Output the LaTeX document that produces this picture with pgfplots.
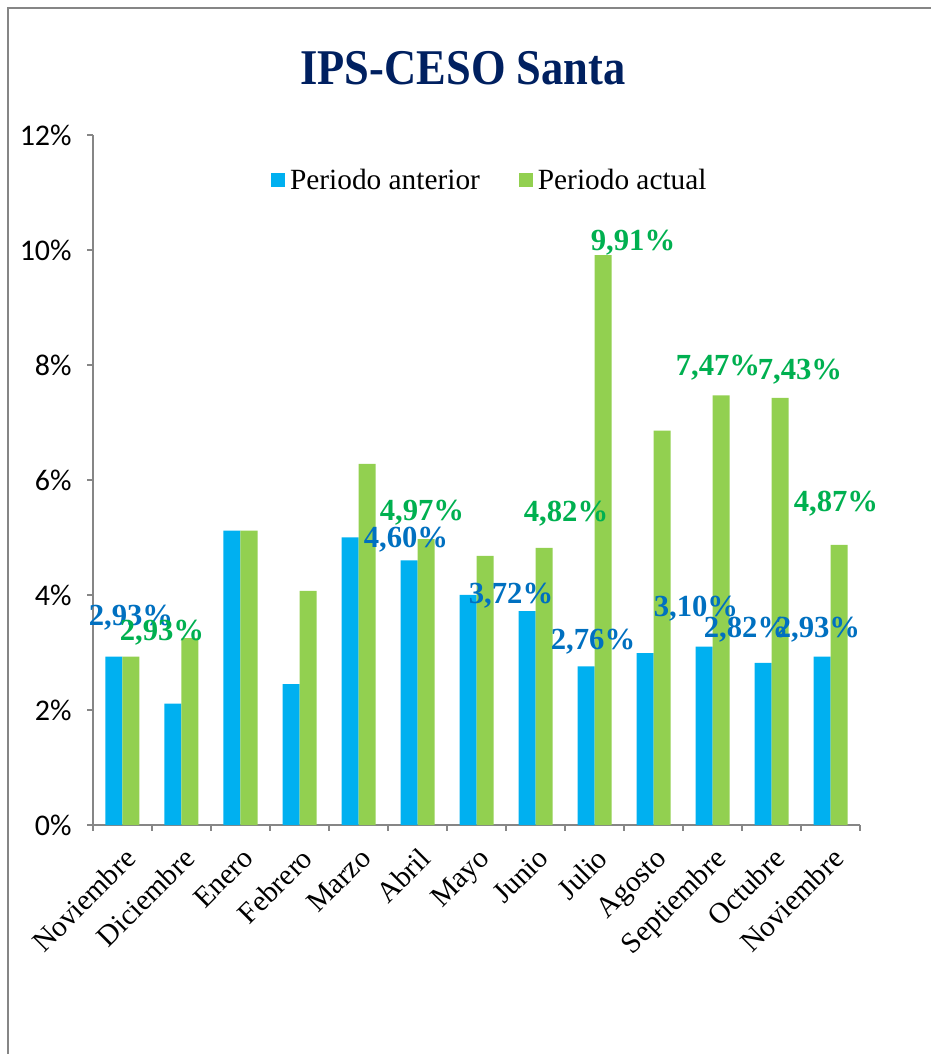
\documentclass[border=0pt]{standalone}
\usepackage{pgfplots}
\pgfplotsset{compat=1.18}
\usepackage{fontspec}
\setmainfont{Liberation Serif}
\newfontfamily\carlito{Carlito}
\definecolor{barblue}{HTML}{00B0F0}
\definecolor{bargreen}{HTML}{92D050}
\definecolor{lblblue}{HTML}{0070C0}
\definecolor{lblgreen}{HTML}{00B050}
\definecolor{titlenavy}{HTML}{002060}
\definecolor{axgray}{HTML}{868686}
\tikzset{lbl/.style={font=\bfseries\fontsize{23}{23}\selectfont, inner sep=0pt}}
\begin{document}
\begin{tikzpicture}
\path[use as bounding box] (0,0) rectangle (698.25pt,790.5pt);
\draw[axgray, line width=1.5pt] (6pt,0) -- (6pt,784.5pt) -- (698.25pt,784.5pt);
\node[font=\bfseries\fontsize{37.5}{40}\selectfont, text=titlenavy] at (347.25pt,739.5pt) {\scalebox{0.89}[1]{IPS-CESO Santa}};
\begin{axis}[
  at={(69.75pt,171.75pt)}, anchor=south west,
  scale only axis, width=575.25pt, height=517.5pt,
  xmin=-0.5, xmax=12.5, ymin=0, ymax=12,
  axis x line*=bottom, axis y line*=left,
  axis line style={axgray, line width=1pt, -},
  ybar=0pt, bar width=12.75pt,
  xtick={-0.5,0.5,...,12.5}, xticklabels={},
  extra x ticks={0,1,...,12},
  extra x tick labels={Noviembre,Diciembre,Enero,Febrero,Marzo,Abril,Mayo,Junio,Julio,Agosto,Septiembre,Octubre,Noviembre},
  extra x tick style={major tick length=0pt},
  major tick length=4.5pt,
  tick align=outside,
  tick style={axgray, line width=1pt},
  ytick={0,2,...,12}, yticklabels={0\%,2\%,4\%,6\%,8\%,10\%,12\%},
  yticklabel style={font=\carlito\fontsize{22.5}{22.5}\selectfont, xshift=-8pt},
  xticklabel style={font=\fontsize{22}{22}\selectfont, rotate=45, anchor=north east, xshift=-7.5pt, yshift=-8pt},
  legend style={at={(0.5176,0.935)}, anchor=center, draw=none, fill=none,
    font=\fontsize{22}{22}\selectfont, legend columns=2,
    /tikz/every even column/.append style={column sep=27pt},
    /tikz/every odd column/.append style={column sep=2pt}},
  legend image code/.code={\fill[#1] (0pt,-5.25pt) rectangle (10.5pt,5.25pt);},
  clip=false,
]
\addplot[fill=barblue, draw=none] coordinates {(0,2.93)(1,2.11)(2,5.12)(3,2.45)(4,5.00)(5,4.60)(6,4.00)(7,3.72)(8,2.76)(9,2.99)(10,3.10)(11,2.82)(12,2.93)};
\addplot[fill=bargreen, draw=none] coordinates {(0,2.93)(1,3.25)(2,5.12)(3,4.07)(4,6.28)(5,4.97)(6,4.68)(7,4.82)(8,9.91)(9,6.86)(10,7.47)(11,7.43)(12,4.87)};
\legend{Periodo anterior, Periodo actual}
\node[lbl, text=lblblue] at (axis cs:0.144,3.60) {2,93\%};
\node[lbl, text=lblgreen] at (axis cs:0.669,3.34) {2,93\%};
\node[lbl, text=lblgreen] at (axis cs:5.076,5.44) {4,97\%};
\node[lbl, text=lblblue] at (axis cs:4.805,4.96) {4,60\%};
\node[lbl, text=lblblue] at (axis cs:6.585,3.98) {3,72\%};
\node[lbl, text=lblgreen] at (axis cs:7.517,5.41) {4,82\%};
\node[lbl, text=lblblue] at (axis cs:7.975,3.18) {2,76\%};
\node[lbl, text=lblgreen] at (axis cs:8.653,10.12) {9,91\%};
\node[lbl, text=lblgreen] at (axis cs:10.093,7.95) {7,47\%};
\node[lbl, text=lblgreen] at (axis cs:11.483,7.88) {7,43\%};
\node[lbl, text=lblgreen] at (axis cs:12.093,5.58) {4,87\%};
\node[lbl, text=lblblue] at (axis cs:9.720,3.76) {3,10\%};
\node[lbl, text=lblblue] at (axis cs:10.568,3.39) {2,82\%};
\node[lbl, text=lblblue] at (axis cs:11.788,3.39) {2,93\%};
\end{axis}
\end{tikzpicture}
\end{document}
